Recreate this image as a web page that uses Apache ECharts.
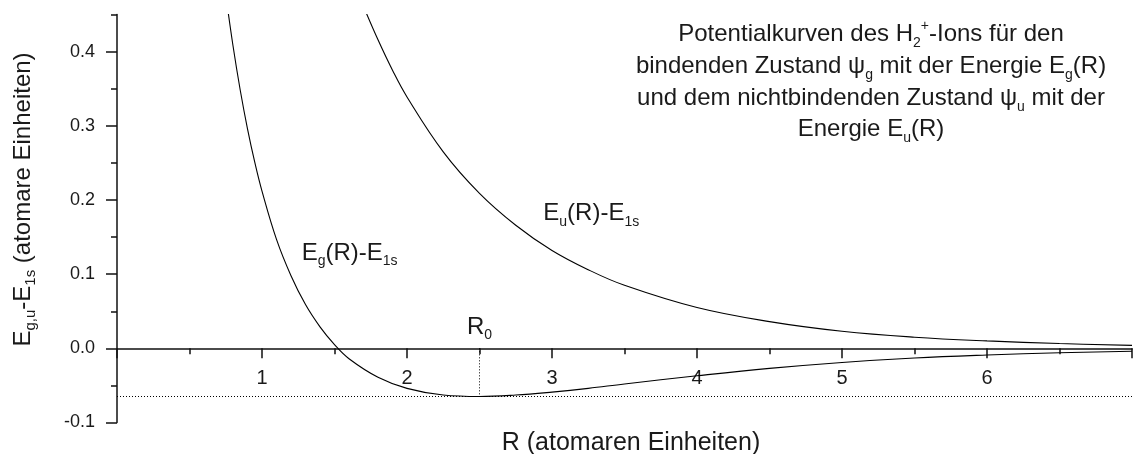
<!DOCTYPE html>
<html>
<head>
<meta charset="utf-8">
<script src="https://cdn.jsdelivr.net/npm/echarts@6/dist/echarts.min.js"></script>
<style>
  html, body { margin: 0; padding: 0; background: #fff; }
  #chart { width: 1135px; height: 454px; }
</style>
</head>
<body>
<div id="chart"></div>
<script>
// Kernabstand R (atomare Einheiten) und Energien relativ zu E_1s
const R_G = [0.75, 0.8, 0.85, 0.9, 0.95, 1.0, 1.1, 1.2, 1.3, 1.4, 1.5, 1.6, 1.8, 2.0, 2.25, 2.5, 2.75, 3.0, 3.25, 3.5, 4.0, 4.5, 5.0, 5.5, 6.0, 6.5, 7.0];
const E_G = [0.477, 0.408, 0.348, 0.296, 0.251, 0.212, 0.147, 0.098, 0.059, 0.029, 0.005, -0.014, -0.039, -0.054, -0.063, -0.065, -0.063, -0.059, -0.054, -0.048, -0.037, -0.027, -0.019, -0.013, -0.009, -0.006, -0.004];

const R_U = [1.7, 1.8, 1.9, 2.0, 2.25, 2.5, 2.75, 3.0, 3.25, 3.5, 4.0, 4.5, 5.0, 5.5, 6.0, 6.5, 7.0];
const E_U = [0.461, 0.416, 0.375, 0.339, 0.265, 0.209, 0.166, 0.132, 0.106, 0.085, 0.055, 0.036, 0.023, 0.015, 0.010, 0.0065, 0.004];

// Gleichgewichtsabstand und Minimum der bindenden Kurve
const R0 = 2.5;
const E_MIN = -0.065;

// Achsenbeschriftungen
const X_LABELS = [1, 2, 3, 4, 5, 6];
const Y_LABELS = [-0.1, 0.0, 0.1, 0.2, 0.3, 0.4];

const FONT = '"Liberation Sans", Arial, Helvetica, sans-serif';
const INK = '#1a1a1a';

const chart = echarts.init(document.getElementById('chart'), null, { renderer: 'canvas' });

const pairs = (xs, ys) => xs.map((x, i) => [x, ys[i]]);

// Rich-Text-Stile für Indizes
function richStyles(size, lh, subSize) {
  return {
    n: { fontSize: size, fontFamily: FONT, fill: INK, color: INK, lineHeight: lh },
    sub: { fontSize: subSize, fontFamily: FONT, fill: INK, color: INK, lineHeight: 16, verticalAlign: 'bottom' },
    sup: { fontSize: subSize, fontFamily: FONT, fill: INK, color: INK, lineHeight: 13, verticalAlign: 'top' }
  };
}

function textEl(x, y, text, opts) {
  opts = opts || {};
  const size = opts.size || 24;
  const lh = opts.lh || 31;
  const subSize = opts.sub || 14;
  return {
    type: 'text',
    x: x, y: y,
    rotation: opts.rotation || 0,
    silent: true,
    style: {
      text: text,
      fontSize: size,
      fontFamily: FONT,
      fill: INK,
      lineHeight: lh,
      align: opts.align || 'left',
      textAlign: opts.align || 'left',
      verticalAlign: opts.valign || 'middle',
      textVerticalAlign: opts.valign || 'middle',
      rich: richStyles(size, lh, subSize)
    }
  };
}

const axisLineStyle = { color: '#111', width: 1.5 };

const option = {
  animation: false,
  backgroundColor: '#fff',
  grid: { left: 117, right: 0, top: 14.6, bottom: 31.5, containLabel: false },
  xAxis: {
    type: 'value',
    min: 0, max: 7, interval: 1,
    axisLine: { show: true, onZero: true, lineStyle: axisLineStyle },
    axisTick: { show: true, inside: false, length: 10, lineStyle: axisLineStyle },
    minorTick: { show: true, splitNumber: 2, length: 6, lineStyle: axisLineStyle },
    axisLabel: {
      margin: -54, fontSize: 20, fontFamily: FONT, color: INK,
      formatter: v => (X_LABELS.indexOf(v) >= 0 ? String(v) : '')
    },
    splitLine: { show: false },
    minorSplitLine: { show: false }
  },
  yAxis: [
    {
      type: 'value',
      min: -0.1, max: 0.45, interval: 0.05,
      axisLine: { show: true, onZero: false, lineStyle: axisLineStyle },
      axisTick: { show: true, inside: false, length: 6, lineStyle: axisLineStyle },
      axisLabel: {
        margin: 22, fontSize: 18, fontFamily: FONT, color: INK,
        formatter: v => {
          const hit = Y_LABELS.find(t => Math.abs(t - v) < 1e-6);
          return hit === undefined ? '' : hit.toFixed(1);
        }
      },
      splitLine: { show: false }
    },
    {
      type: 'value',
      min: -0.1, max: 0.45, interval: 0.1,
      position: 'left',
      axisLine: { show: false },
      axisTick: { show: true, inside: false, length: 11, lineStyle: axisLineStyle, customValues: Y_LABELS },
      axisLabel: { show: false },
      splitLine: { show: false }
    }
  ],
  series: [
    {
      name: 'E_g',
      type: 'line',
      data: pairs(R_G, E_G),
      showSymbol: false,
      smooth: 0.4,
      clip: true,
      lineStyle: { color: '#000', width: 1.1 },
      markLine: {
        silent: true,
        symbol: 'none',
        label: { show: false },
        lineStyle: { color: '#000', width: 1, type: [1, 2] },
        data: [
          [{ coord: [0, E_MIN] }, { coord: [7, E_MIN] }],
          [{ coord: [R0, 0] }, { coord: [R0, E_MIN] }]
        ]
      }
    },
    {
      name: 'E_u',
      type: 'line',
      data: pairs(R_U, E_U),
      showSymbol: false,
      smooth: 0.4,
      clip: true,
      lineStyle: { color: '#000', width: 1.1 }
    }
  ],
  graphic: [
    // Beschreibung oben rechts
    textEl(871, 19,
      '{n|Potentialkurven des H}{sub|2}{sup|+}{n|-Ions für den}\n' +
      '{n|bindenden Zustand ψ}{sub|g}{n| mit der Energie E}{sub|g}{n|(R)}\n' +
      '{n|und dem nichtbindenden Zustand ψ}{sub|u}{n| mit der}\n' +
      '{n|Energie E}{sub|u}{n|(R)}',
      { align: 'center', valign: 'top', lh: 31.6 }),
    // Kurvenbeschriftungen
    textEl(301.7, 253, '{n|E}{sub|g}{n|(R)-E}{sub|1s}'),
    textEl(543.3, 213.5, '{n|E}{sub|u}{n|(R)-E}{sub|1s}'),
    textEl(467, 327, '{n|R}{sub|0}'),
    // Achsentitel
    textEl(631, 443, '{n|R (atomaren Einheiten)}', { align: 'center', size: 25 }),
    textEl(23, 199.5, '{n|E}{sub|g,u}{n|-E}{sub|1s}{n| (atomare Einheiten)}',
      { align: 'center', rotation: Math.PI / 2, size: 24, sub: 15 })
  ]
};

chart.setOption(option);
</script>
</body>
</html>
